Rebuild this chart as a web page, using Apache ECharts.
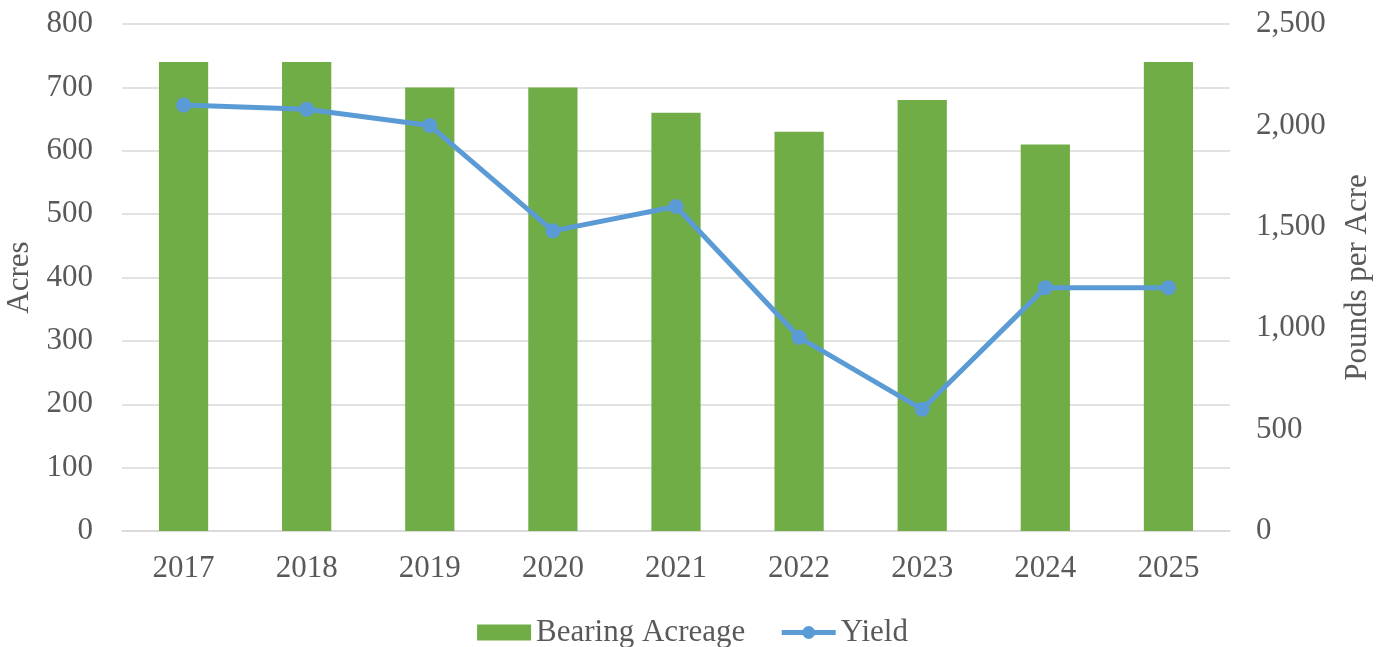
<!DOCTYPE html>
<html><head><meta charset="utf-8">
<script src="https://cdn.jsdelivr.net/npm/echarts@6/dist/echarts.min.js"></script>
<style>html,body{margin:0;padding:0;background:#fff}#c{width:1385px;height:647px}</style>
</head><body><div id="c"></div>
<script>
const categories = ['2017','2018','2019','2020','2021','2022','2023','2024','2025'];
const acreage = [740,740,700,700,660,630,680,610,740];
const yieldVals = [2100,2080,2000,1480,1600,955,600,1200,1200];
const font = 'Liberation Serif, Times New Roman, serif';
const txt = '#595959';
const chart = echarts.init(document.getElementById('c'));
chart.setOption({
  animation:false,
  textStyle:{fontFamily:font},
  grid:{left:122,right:155,top:24,bottom:116,containLabel:false,outerBoundsMode:'none'},
  legend:{top:612,left:'center',itemGap:34,itemWidth:54,itemHeight:16,
    textStyle:{fontFamily:font,fontSize:31,color:txt},
    data:[{name:'Bearing Acreage',icon:'rect'},
          {name:'Yield',lineStyle:{width:5,color:'#5b9bd5'}}]},
  xAxis:{type:'category',data:categories,
    axisLine:{lineStyle:{color:'#d9d9d9',width:1.5}},axisTick:{show:false},
    axisLabel:{fontFamily:font,fontSize:31,color:txt,margin:22}},
  yAxis:[{type:'value',min:0,max:800,interval:100,name:'Acres',nameLocation:'middle',nameGap:87,nameMoveOverlap:false,
    nameTextStyle:{fontFamily:font,fontSize:31,color:txt,padding:[6,0,0,0]},
    axisLabel:{fontFamily:font,fontSize:31,color:txt,margin:29},
    splitLine:{lineStyle:{color:'#d9d9d9',width:1.5}},axisLine:{show:false},axisTick:{show:false}},
   {type:'value',min:0,max:2500,interval:500,name:'Pounds per Acre',nameLocation:'middle',nameGap:112,nameRotate:90,
    nameTextStyle:{fontFamily:font,fontSize:31,color:txt},
    axisLabel:{fontFamily:font,fontSize:31,color:txt,margin:26,formatter:v=>v.toLocaleString('en-US')},
    splitLine:{show:false},axisLine:{show:false},axisTick:{show:false}}],
  series:[
    {name:'Bearing Acreage',type:'bar',data:acreage,barWidth:'40%',itemStyle:{color:'#70ad47'}},
    {name:'Yield',type:'line',yAxisIndex:1,data:yieldVals,symbol:'circle',symbolSize:15,
      lineStyle:{color:'#5b9bd5',width:5},itemStyle:{color:'#5b9bd5'}}
  ]
});
</script></body></html>
